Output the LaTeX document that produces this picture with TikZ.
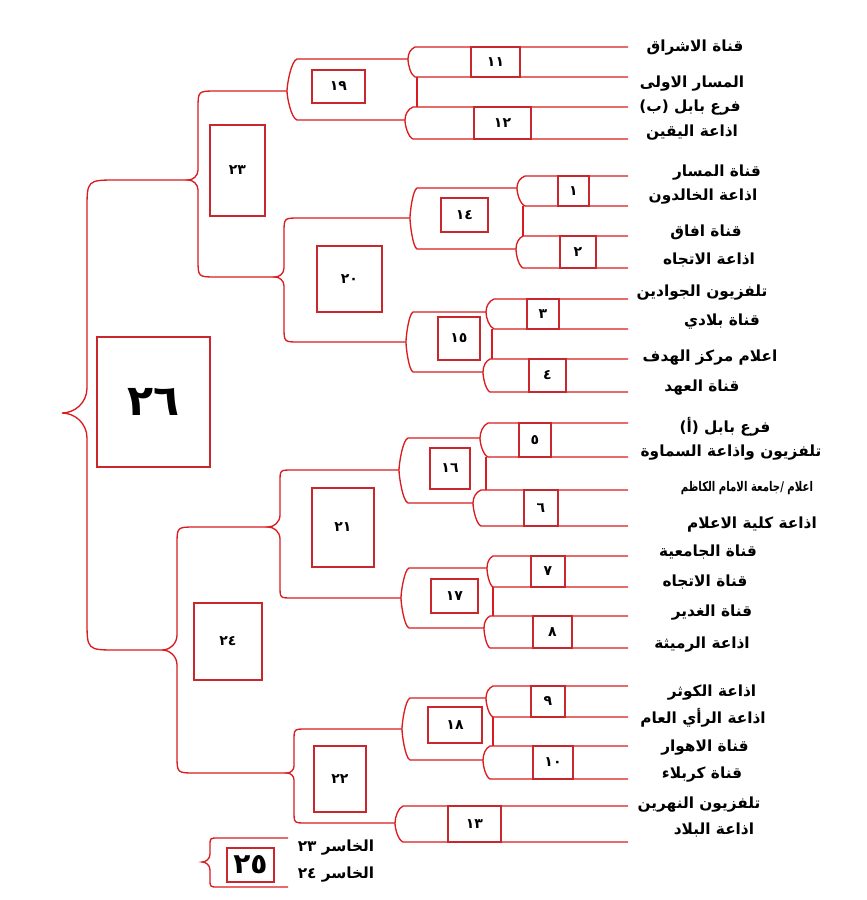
\documentclass[tikz,border=0pt]{standalone}
\usepackage{fontspec}
\newfontfamily\arabicfont[Script=Arabic]{DejaVu Sans}
\TeXXeTstate=1
\definecolor{bracketred}{RGB}{218,28,32}
\definecolor{boxred}{RGB}{200,40,45}
\newcommand{\rtl}[1]{\beginR#1\endR}
% round end of a match: tip name, corner x, top y, bottom y, tip y, depth, top end, bottom end
\newcommand{\roundcap}[8]{%
  \coordinate (#1) at ({#2-#6},#5);
  \draw[bracketline] (#7) -- (#2,#3)
    .. controls ({#2-0.6*#6},{#3+2}) and ({#2-#6},{#5-6}) .. (#1)
    .. controls ({#2-#6},{#5+6}) and ({#2-0.6*#6},{#4-2}) .. (#2,#4) -- (#8);}
% curly joint: tip name, vertical x, tip x, top y, tip y, bottom y, top end, bottom end, corner radius
\newcommand{\bracejoin}[9]{%
  \coordinate (#1) at (#3,#5);
  \draw[bracketline] (#7) -- ({#2+#9},#4) .. controls (#2,#4) .. (#2,{#4+#9})
    -- (#2,{#5-(#2-#3)}) .. controls (#2,{#5-0.4*(#2-#3)}) and ({#2-0.5*(#2-#3)},#5) .. (#1)
    .. controls ({#2-0.5*(#2-#3)},#5) and (#2,{#5+0.4*(#2-#3)}) .. (#2,{#5+(#2-#3)})
    -- (#2,{#6-#9}) .. controls (#2,#6) .. ({#2+#9},#6) -- (#8);}
\newcommand{\scorebox}[6]{%
  \node[scorebox, minimum width={(#4-#2)*0.75pt}, minimum height={(#5-#3)*0.75pt}] (#1) at ({(#2+#4)/2},{(#3+#5)/2}) {#6};}
\tikzstyle{bracketline} = [draw=bracketred, line width=1pt]
\tikzstyle{scorebox} = [rectangle, draw=boxred, line width=1.1pt, inner sep=0pt, font=\arabicfont\bfseries\fontsize{10.5}{12}\selectfont]
\tikzstyle{team} = [inner sep=0pt, font=\arabicfont\bfseries\fontsize{11.5}{13}\selectfont]
\begin{document}
\begin{tikzpicture}[x=0.75pt, y=-0.75pt]
  \useasboundingbox[fill=white] (0,0) rectangle (867,900);
  % first round
  \roundcap{m11}{415}{47}{77}{59}{7}{628,47}{628,77}
  \roundcap{m12}{413}{107}{139}{120}{8}{628,107}{628,139}
  \roundcap{m1}{525}{176}{206}{188}{8}{628,176}{628,206}
  \roundcap{m2}{523}{236}{268}{249}{7}{628,236}{628,268}
  \roundcap{m3}{494}{299}{329}{312}{8}{628,299}{628,329}
  \roundcap{m4}{490}{359}{392}{372}{7}{628,359}{628,392}
  \roundcap{m5}{488}{423}{457}{438}{8}{628,423}{628,457}
  \roundcap{m6}{481}{490}{526}{503}{8}{628,490}{628,526}
  \roundcap{m7}{493}{556}{587}{568}{6}{628,556}{628,587}
  \roundcap{m8}{490}{616}{648}{628}{6}{628,616}{628,648}
  \roundcap{m9}{493}{686}{717}{698}{7}{628,686}{628,717}
  \roundcap{m10}{490}{746}{779}{760}{7}{628,746}{628,779}
  \roundcap{m13}{403}{806}{842}{823}{8}{628,806}{628,842}
  \draw[bracketline] (417,77) -- (417,107);
  \draw[bracketline] (523,206) -- (523,236);
  \draw[bracketline] (492,329) -- (492,359);
  \draw[bracketline] (486,457) -- (486,490);
  \draw[bracketline] (493,587) -- (493,616);
  \draw[bracketline] (493,717) -- (493,746);
  % second round
  \roundcap{g19}{297}{59}{120}{91}{10}{m11}{m12}
  \roundcap{g14}{417}{188}{249}{218}{7}{m1}{m2}
  \roundcap{g15}{413}{312}{372}{342}{7}{m3}{m4}
  \roundcap{g16}{408}{438}{503}{470}{9}{m5}{m6}
  \roundcap{g17}{409}{568}{628}{598}{8}{m7}{m8}
  \roundcap{g18}{410}{698}{760}{729}{8}{m9}{m10}
  % later rounds
  \bracejoin{g20}{284}{275}{218}{277}{342}{g14}{g15}{15}
  \bracejoin{g23}{198}{188}{91}{180}{277}{g19}{g20}{18}
  \bracejoin{g21}{280}{268}{470}{527}{598}{g16}{g17}{12}
  \bracejoin{g22}{294}{287}{729}{773}{823}{g18}{m13}{12}
  \bracejoin{g24}{177}{162}{527}{650}{773}{g21}{g22}{18}
  \bracejoin{g26}{87}{62}{180}{413}{650}{g23}{g24}{30}
  \bracejoin{g25}{210}{202}{838}{862}{887}{288,838}{288,887}{8}
  % boxes
  \scorebox{b11}{471}{47}{520}{77}{١١}
  \scorebox{b12}{474}{107}{531}{139}{١٢}
  \scorebox{b1}{558}{176}{589}{206}{١}
  \scorebox{b2}{560}{236}{596}{268}{٢}
  \scorebox{b3}{527}{299}{559}{329}{٣}
  \scorebox{b4}{529}{359}{566}{392}{٤}
  \scorebox{b5}{519}{423}{551}{457}{٥}
  \scorebox{b6}{524}{490}{558}{526}{٦}
  \scorebox{b7}{531}{556}{565}{587}{٧}
  \scorebox{b8}{533}{616}{572}{648}{٨}
  \scorebox{b9}{531}{686}{565}{717}{٩}
  \scorebox{b10}{533}{746}{573}{779}{١٠}
  \scorebox{b13}{448}{806}{501}{842}{١٣}
  \scorebox{b19}{312}{70}{365}{103}{١٩}
  \scorebox{b14}{441}{198}{488}{232}{١٤}
  \scorebox{b15}{438}{317}{480}{360}{١٥}
  \scorebox{b16}{430}{448}{470}{489}{١٦}
  \scorebox{b17}{431}{579}{478}{613}{١٧}
  \scorebox{b18}{428}{707}{482}{743}{١٨}
  \scorebox{b20}{317}{246}{382}{312}{٢٠}
  \scorebox{b21}{312}{488}{374}{567}{٢١}
  \scorebox{b22}{314}{746}{366}{812}{٢٢}
  \scorebox{b23}{210}{125}{265}{216}{٢٣}
  \scorebox{b24}{194}{603}{262}{680}{٢٤}
  \scorebox{b26}{97}{337}{210}{467}{\fontsize{32}{34}\selectfont ٢٦}
  \scorebox{b25}{227}{848}{274}{882}{\fontsize{21}{23}\selectfont ٢٥}
  % teams
  \node[team] (t1) at (695,48) {\rtl{قناة الاشراق}};
  \node[team] (t2) at (692,84) {\rtl{المسار الاولى}};
  \node[team] (t3) at (690,108) {\rtl{فرع بابل (ب)}};
  \node[team] (t4) at (692,133) {\rtl{اذاعة اليقين}};
  \node[team] (t5) at (717,173) {\rtl{قناة المسار}};
  \node[team] (t6) at (703,197) {\rtl{اذاعة الخالدون}};
  \node[team] (t7) at (706,232) {\rtl{قناة افاق}};
  \node[team] (t8) at (709,260) {\rtl{اذاعة الاتجاه}};
  \node[team] (t9) at (702,293) {\rtl{تلفزيون الجوادين}};
  \node[team] (t10) at (722,322) {\rtl{قناة بلادي}};
  \node[team] (t11) at (710,358) {\rtl{اعلام مركز الهدف}};
  \node[team] (t12) at (702,388) {\rtl{قناة العهد}};
  \node[team] (t13) at (725,427) {\rtl{فرع بابل (أ)}};
  \node[team] (t14) at (731,453) {\rtl{تلفزيون واذاعة السماوة}};
  \node[team, font=\arabicfont\bfseries\fontsize{10}{12}\selectfont, xscale=0.76, transform shape] (t15) at (747,488) {\rtl{اعلام /جامعة الامام الكاظم}};
  \node[team] (t16) at (752,525) {\rtl{اذاعة كلية الاعلام}};
  \node[team] (t17) at (708,552) {\rtl{قناة الجامعية}};
  \node[team] (t18) at (705,582) {\rtl{قناة الاتجاه}};
  \node[team] (t19) at (712,613) {\rtl{قناة الغدير}};
  \node[team] (t20) at (702,645) {\rtl{اذاعة الرميثة}};
  \node[team] (t21) at (712,693) {\rtl{اذاعة الكوثر}};
  \node[team] (t22) at (703,718) {\rtl{اذاعة الرأي العام}};
  \node[team] (t23) at (705,748) {\rtl{قناة الاهوار}};
  \node[team] (t24) at (702,775) {\rtl{قناة كربلاء}};
  \node[team] (t25) at (699,805) {\rtl{تلفزيون النهرين}};
  \node[team] (t26) at (714,830) {\rtl{اذاعة البلاد}};
  \node[team] (l23) at (336,848) {\rtl{الخاسر ٢٣}};
  \node[team] (l24) at (336,875) {\rtl{الخاسر ٢٤}};
\end{tikzpicture}
\end{document}
